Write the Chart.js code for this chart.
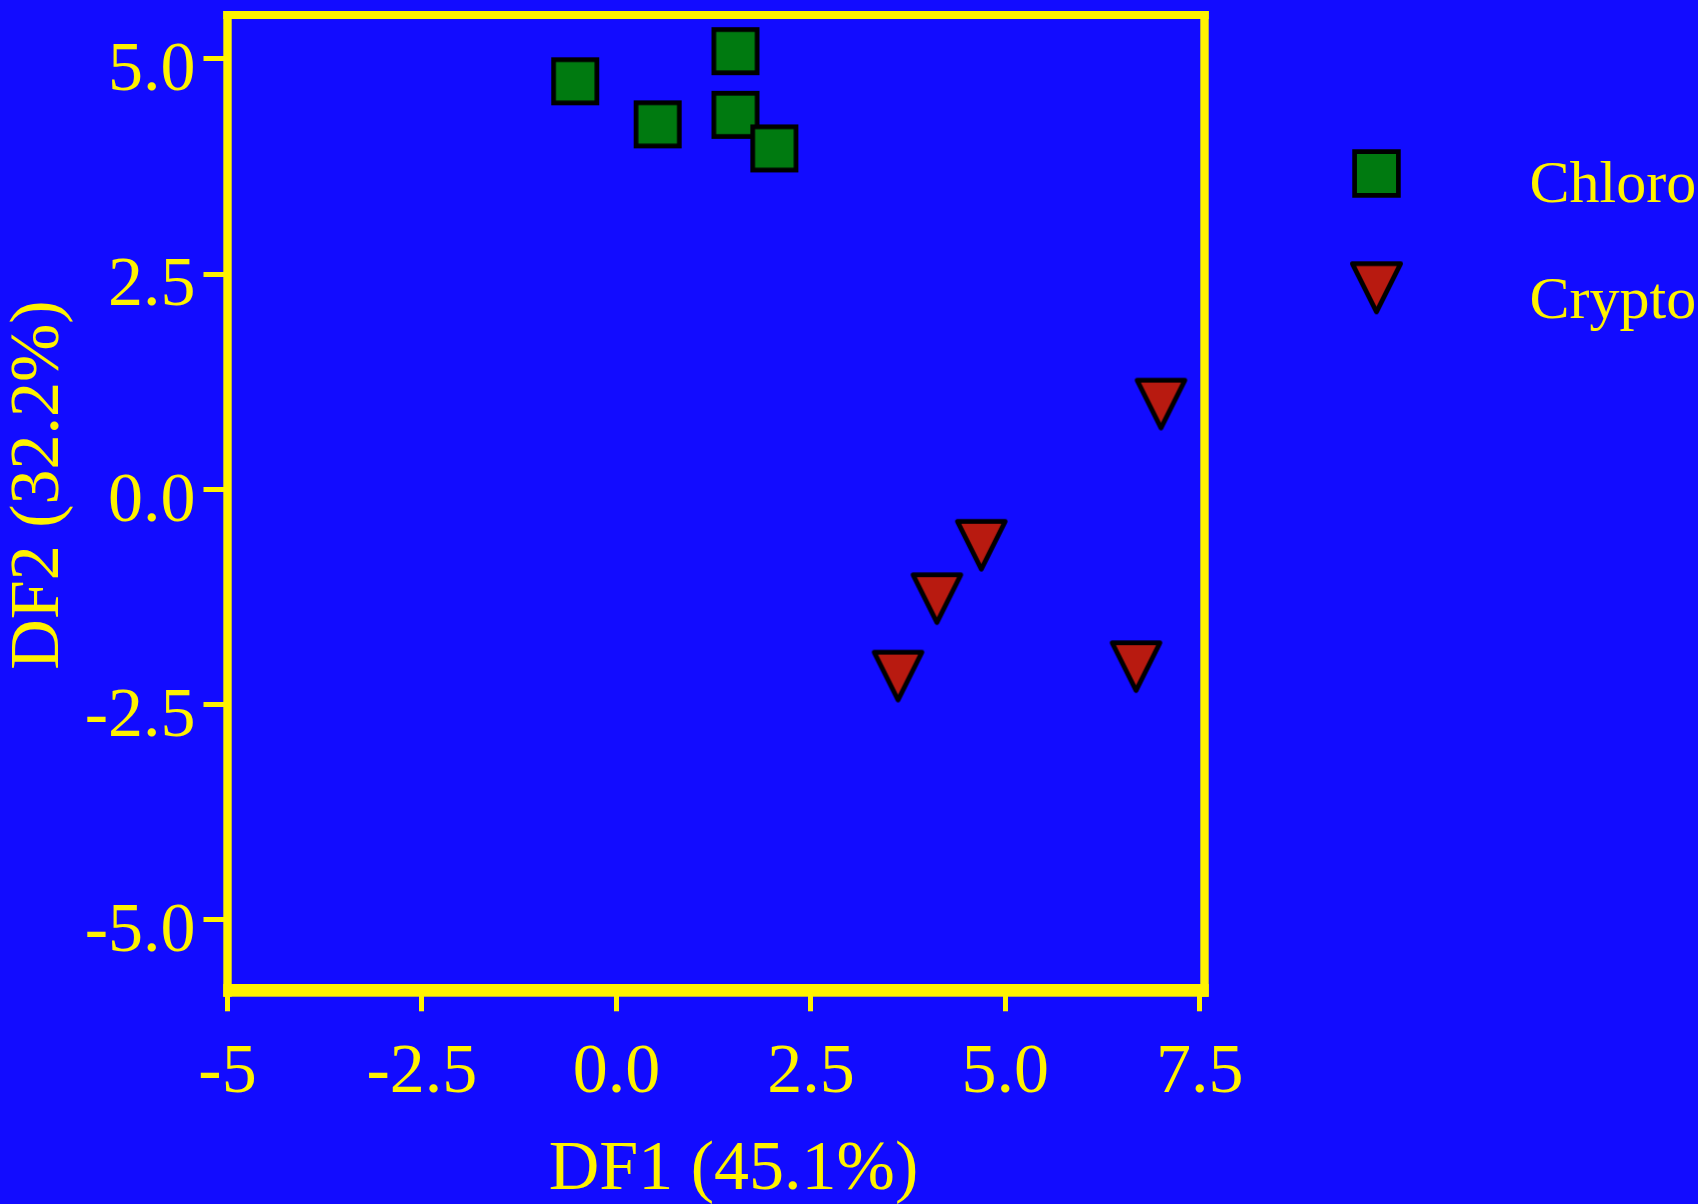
<!DOCTYPE html>
<html>
<head>
<meta charset="utf-8">
<script src="https://cdn.jsdelivr.net/npm/chart.js@4.4.1/dist/chart.umd.min.js"></script>
<style>
  html, body { margin: 0; padding: 0; background: #120CFF; }
  #wrap { width: 1698px; height: 1204px; position: relative; }
</style>
</head>
<body>
<div id="wrap"><canvas id="dfChart"></canvas></div>
<script>
// Series names and point values (DF1 / DF2 scores)
const seriesNames = ['Chloro', 'Crypto'];
const chloroX = [-0.53, 0.53, 1.53, 1.53, 2.03];
const chloroY = [4.74, 4.24, 5.09, 4.35, 3.96];
const cryptoX = [7.0, 4.69, 4.12, 3.62, 6.68];
const cryptoY = [0.99, -0.65, -1.27, -2.17, -2.06];

// Axis ticks and titles
const xTickValues = [-5, -2.5, 0, 2.5, 5, 7.5];
const xTickLabels = ['-5', '-2.5', '0.0', '2.5', '5.0', '7.5'];
const yTickValues = [-5, -2.5, 0, 2.5, 5];
const yTickLabels = ['-5.0', '-2.5', '0.0', '2.5', '5.0'];
const xTitle = 'DF1 (45.1%)';
const yTitle = 'DF2 (32.2%)';

const YELLOW = '#FFF200';
const FONT = "'Liberation Serif', 'Times New Roman', serif";

// Build marker images (square / down triangle) with black outline
function makeSymbol(shape, fill, outer) {
    const lw = 4.7;
    const size = Math.ceil(outer) + 2;
    const c = document.createElement('canvas');
    c.width = size; c.height = size;
    const g = c.getContext('2d');
    const mid = size / 2, h = (outer - lw) / 2;
    g.beginPath();
    if (shape === 'square') {
        g.rect(mid - h, mid - h, 2 * h, 2 * h);
    } else {
        g.moveTo(mid - h, mid - h);
        g.lineTo(mid + h, mid - h);
        g.lineTo(mid, mid + h);
        g.closePath();
    }
    g.fillStyle = fill;
    g.fill();
    g.lineWidth = lw;
    g.lineJoin = shape === 'square' ? 'miter' : 'round';
    g.strokeStyle = '#000000';
    g.stroke();
    return c;
}

const squareMark = makeSymbol('square', '#007A10', 48);
const triMark = makeSymbol('triangle', '#B81A10', 52.5);
const legendMarks = [makeSymbol('square', '#007A10', 48.5), makeSymbol('triangle', '#B81A10', 53)];

const toPoints = (xs, ys) => xs.map((x, i) => ({ x: x, y: ys[i] }));

// keep tick labels from pushing the plot area inwards
function noOverhang(axis) {
    axis.paddingTop = 0;
    axis.paddingBottom = 0;
    axis.paddingLeft = 0;
    axis.paddingRight = 0;
}

// Yellow box around the plot area (bottom edge is heavier)
const framePlugin = {
    id: 'frame',
    afterDatasetsDraw(chart) {
        const { ctx } = chart;
        const { left, right, top, bottom } = chart.chartArea;
        ctx.save();
        ctx.fillStyle = YELLOW;
        ctx.fillRect(left - 4.2, top - 4, right - left + 8.4, 8);
        ctx.fillRect(left - 4.2, top - 4, 8.4, bottom - top + 10.5);
        ctx.fillRect(right - 4.2, top - 4, 8.4, bottom - top + 10.5);
        ctx.fillRect(left - 4.2, bottom - 6.3, right - left + 8.4, 12.7);
        ctx.restore();
    }
};

// Legend off to the right, symbol column and label column far apart
const sideLegend = {
    id: 'sideLegend',
    afterDraw(chart) {
        const { ctx } = chart;
        const area = chart.chartArea;
        const markX = area.right + 172;
        const textX = area.right + 325;
        ctx.save();
        ctx.font = '60px ' + FONT;
        ctx.fillStyle = YELLOW;
        ctx.textAlign = 'left';
        ctx.textBaseline = 'alphabetic';
        chart.data.datasets.forEach((ds, i) => {
            const cy = 173.5 + i * 114.3;
            const img = legendMarks[i];
            ctx.drawImage(img, markX - img.width / 2, cy - img.height / 2);
            ctx.fillText(ds.label, textX, cy + 28.5 + i * 2);
        });
        ctx.restore();
    }
};

new Chart(document.getElementById('dfChart'), {
    type: 'scatter',
    data: {
        datasets: [
            {
                label: seriesNames[0],
                data: toPoints(chloroX, chloroY),
                pointStyle: squareMark
            },
            {
                label: seriesNames[1],
                data: toPoints(cryptoX, cryptoY),
                pointStyle: triMark
            }
        ]
    },
    options: {
        responsive: true,
        maintainAspectRatio: false,
        animation: false,
        layout: { autoPadding: false, padding: { top: 15, right: 493.5, bottom: 0, left: 0 } },
        plugins: {
            legend: { display: false },
            tooltip: { enabled: false }
        },
        scales: {
            x: {
                type: 'linear',
                min: -5,
                max: 7.56,
                afterBuildTicks: axis => { axis.ticks = xTickValues.map(v => ({ value: v })); },
                afterFit: axis => { axis.height = 213.7; noOverhang(axis); },
                border: { display: false },
                grid: { drawOnChartArea: false, drawTicks: true, tickLength: 21, tickWidth: 5, tickColor: YELLOW },
                ticks: {
                    color: YELLOW,
                    font: { family: FONT, size: 70 },
                    padding: 20,
                    maxRotation: 0,
                    autoSkip: false,
                    callback: v => xTickLabels[xTickValues.indexOf(v)]
                },
                title: {
                    display: true,
                    text: '  ' + xTitle,
                    color: YELLOW,
                    font: { family: FONT, size: 70, lineHeight: 0.94 },
                    padding: 0
                }
            },
            y: {
                type: 'linear',
                min: -5.82,
                max: 5.51,
                afterBuildTicks: axis => { axis.ticks = yTickValues.map(v => ({ value: v })); },
                afterFit: axis => { axis.width = 227.5; noOverhang(axis); },
                border: { display: false },
                grid: { drawOnChartArea: false, drawTicks: true, tickLength: 24, tickWidth: 5, tickColor: YELLOW },
                ticks: {
                    color: YELLOW,
                    font: { family: FONT, size: 70 },
                    padding: 8,
                    labelOffset: 13,
                    autoSkip: false,
                    callback: v => yTickLabels[yTickValues.indexOf(v)]
                },
                title: {
                    display: true,
                    text: '  ' + yTitle,
                    color: YELLOW,
                    font: { family: FONT, size: 70, lineHeight: 0.94 },
                    padding: { top: 7, bottom: 0 }
                }
            }
        }
    },
    plugins: [framePlugin, sideLegend]
});
</script>
</body>
</html>
